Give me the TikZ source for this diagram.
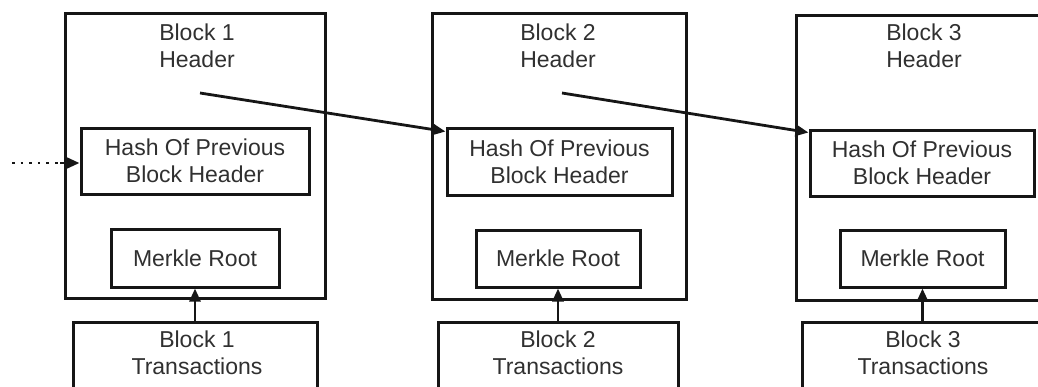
\documentclass[tikz,border=0pt]{standalone}
\usepackage{fontspec}
\setmainfont{Liberation Sans}
\usetikzlibrary{arrows.meta,calc}
\definecolor{ink}{HTML}{161616}
\definecolor{txt}{HTML}{303030}
\begin{document}
\begin{tikzpicture}[x=1pt,y=-1pt,
  box/.style={draw=ink,line width=3pt,rectangle,inner sep=0pt},
  lbl/.style={text=txt,align=center,font=\fontsize{23}{27}\selectfont,inner sep=0pt},
  link/.style={draw=ink,line width=2.8pt,-{Triangle[length=13pt,width=11pt]}},
  trail/.style={draw=ink,line width=2.6pt,dash pattern=on 2.6pt off 6pt}]
\useasboundingbox (0,0) rectangle (1038,386);
\clip (0,0) rectangle (1038,386);

% block outlines
\node[box,minimum width=260pt,minimum height=285pt] (b1) at (195,155.5) {};
\node[box,minimum width=254pt,minimum height=286pt] (b2) at (559,156) {};
\node[box,minimum width=290pt,minimum height=285pt] (b3) at (941,157.5) {};

% header titles
\node[lbl] (n1) at (197,46) {Block 1\\Header};
\node[lbl] (n2) at (558,46) {Block 2\\Header};
\node[lbl] (n3) at (924,46) {Block 3\\Header};

% previous-hash fields
\node[box,lbl,minimum width=228pt,minimum height=66pt] (h1) at (195,161) {Hash Of Previous\\Block Header};
\node[box,lbl,minimum width=225pt,minimum height=67pt] (h2) at (559.5,161.5) {Hash Of Previous\\Block Header};
\node[box,lbl,minimum width=224pt,minimum height=66pt] (h3) at (922,163) {Hash Of Previous\\Block Header};

% merkle roots
\node[box,lbl,minimum width=168pt,minimum height=58pt] (m1) at (195,258) {Merkle Root};
\node[box,lbl,minimum width=164pt,minimum height=57pt] (m2) at (558,258.5) {Merkle Root};
\node[box,lbl,minimum width=165pt,minimum height=57pt] (m3) at (922.5,258.5) {Merkle Root};

% transaction boxes (running off the bottom)
\node[box,minimum width=244pt,minimum height=80pt] (t1) at (195,362) {};
\node[box,minimum width=240pt,minimum height=80pt] (t2) at (558,362) {};
\node[box,minimum width=278pt,minimum height=80pt] (t3) at (941,362) {};
\node[lbl] (tx1) at (197,353) {Block 1\\Transactions};
\node[lbl] (tx2) at (558,353) {Block 2\\Transactions};
\node[lbl] (tx3) at (923,353) {Block 3\\Transactions};

% header hash links
\coordinate (s1) at (200,93);
\coordinate (s2) at (562,93);
\coordinate (e2) at ($(h2.north west)+(0,5)$);
\coordinate (e3) at ($(h3.north west)+(0,4)$);
\draw[link] (s1) -- (e2);
\draw[link] (s2) -- (e3);

% link from the earlier chain
\coordinate (d0) at (12,163);
\coordinate (d1) at (60,163);
\draw[trail] (d0) -- (d1);
\draw[link] (d1) -- (d1 -| h1.west);

% transactions feed merkle roots
\draw[link] (t1.north -| m1.south) -- (m1.south);
\draw[link] (t2.north -| m2.south) -- (m2.south);
\draw[link] (t3.north -| m3.south) -- (m3.south);
\end{tikzpicture}
\end{document}
